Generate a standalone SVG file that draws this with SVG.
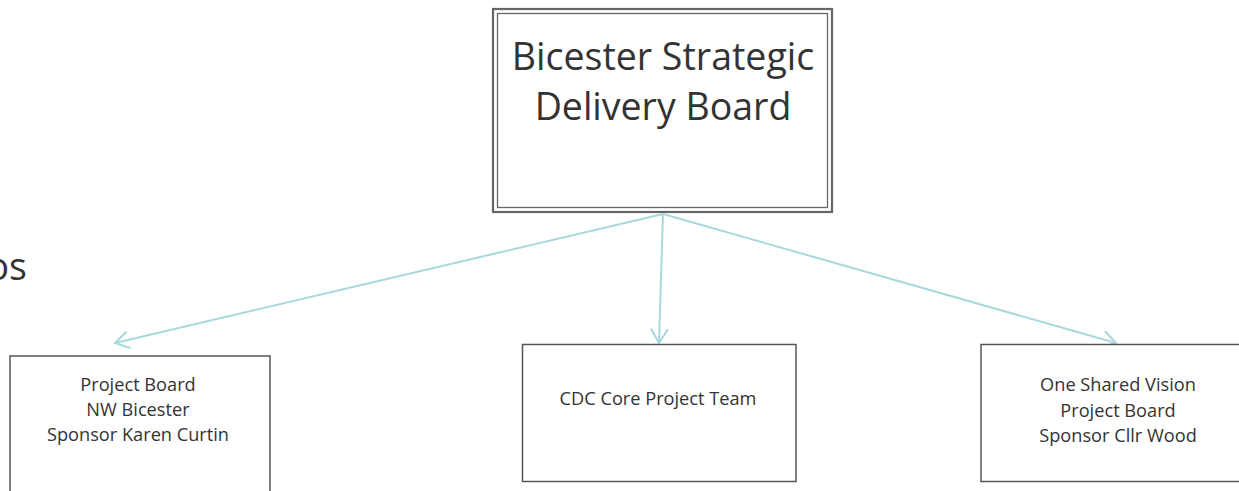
<svg xmlns="http://www.w3.org/2000/svg" width="1239" height="491" viewBox="0 0 1239 491">
  <style>
    .box { fill: #ffffff; stroke: #555555; stroke-width: 1.5; }
    .frame { fill: none; stroke: #666666; }
    .title { font-family: "Open Sans", "Liberation Sans", sans-serif; font-size: 37.5px; fill: #333333; text-anchor: middle; }
    .label { font-family: "Open Sans", "Liberation Sans", sans-serif; font-size: 18.2px; fill: #333333; text-anchor: middle; }
    .edge { fill: none; stroke: #a9d8dc; stroke-width: 2; marker-end: url(#arrow); }
  </style>
  <defs>
    <marker id="arrow" markerUnits="userSpaceOnUse" markerWidth="24" markerHeight="24" refX="20" refY="12" orient="auto">
      <path d="M6,3.5 L20,12 L6,20.5" fill="none" stroke="#a9d8dc" stroke-width="2"/>
    </marker>
  </defs>

  <rect width="1239" height="491" fill="#ffffff"/>

  <!-- tail of a heading that runs off the left edge -->
  <text class="title" x="27" y="280" style="text-anchor:end">os</text>

  <g id="board">
    <rect x="493" y="9" width="339" height="203" fill="#ffffff" stroke="#666666" stroke-width="2.2"/>
    <rect x="497.5" y="13.5" width="330" height="194" class="frame" stroke-width="1.3"/>
    <text class="title" x="663" y="70">Bicester Strategic</text>
    <text class="title" x="663" y="120">Delivery Board</text>
  </g>

  <g id="connectors">
    <line class="edge" x1="663" y1="214" x2="115" y2="343"/>
    <line class="edge" x1="663" y1="214" x2="659" y2="343"/>
    <line class="edge" x1="663" y1="214" x2="1116" y2="343"/>
  </g>

  <g id="nw-bicester">
    <rect class="box" x="10" y="356" width="260" height="140"/>
    <text class="label" x="138" y="391">Project Board</text>
    <text class="label" x="138" y="416">NW Bicester</text>
    <text class="label" x="138" y="441">Sponsor Karen Curtin</text>
  </g>

  <g id="cdc-core">
    <rect class="box" x="522.5" y="344.5" width="273.5" height="137"/>
    <text class="label" x="658" y="405">CDC Core Project Team</text>
  </g>

  <g id="one-shared-vision">
    <rect class="box" x="981" y="344.5" width="270" height="137"/>
    <text class="label" x="1118" y="391">One Shared Vision</text>
    <text class="label" x="1118" y="417">Project Board</text>
    <text class="label" x="1118" y="442">Sponsor Cllr Wood</text>
  </g>
</svg>
